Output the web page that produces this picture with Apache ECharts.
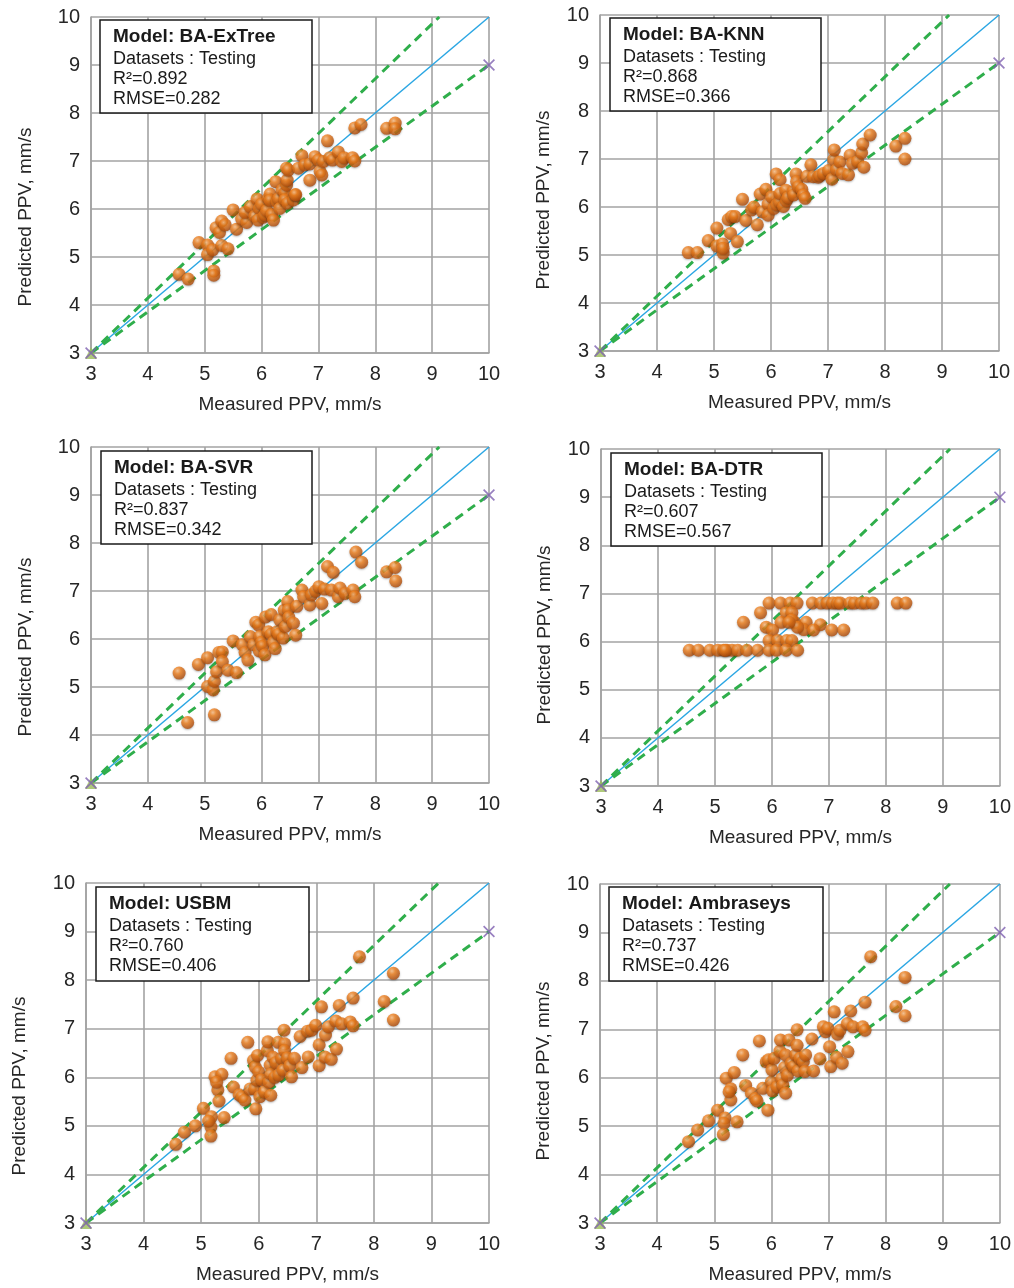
<!DOCTYPE html>
<html>
<head>
<meta charset="utf-8">
<script src="https://cdn.jsdelivr.net/npm/echarts@6/dist/echarts.min.js"></script>
<style>
    html, body {margin: 0; padding: 0; background: #fff;}
    #main {width: 1014px; height: 1288px;}
</style>
</head>
<body>
<div id="main"></div>
<script>
// model stats shown in the boxes
var modelNames = ['BA-ExTree', 'BA-KNN', 'BA-SVR', 'BA-DTR', 'USBM', 'Ambraseys'];
var r2Values = ['0.892', '0.868', '0.837', '0.607', '0.760', '0.737'];
var rmseValues = ['0.282', '0.366', '0.342', '0.567', '0.406', '0.426'];

// [measured, predicted]
var extreeData = [[4.55,4.64],[4.71,4.54],[4.90,5.30],[5.05,5.25],[5.05,5.05],[5.14,5.15],[5.16,4.71],[5.16,4.62],[5.30,5.24],[5.41,5.17],[5.20,5.61],[5.26,5.51],[5.30,5.75],[5.36,5.67],[5.50,5.98],[5.56,5.58],[5.65,5.79],[5.74,5.72],[5.71,5.93],[5.80,6.05],[5.88,5.85],[5.92,6.21],[5.96,6.01],[5.94,5.77],[6.00,6.10],[6.03,5.83],[6.06,5.88],[6.09,5.97],[6.12,6.22],[6.15,6.31],[6.15,6.18],[6.18,5.88],[6.21,5.77],[6.25,6.57],[6.27,6.15],[6.30,6.22],[6.32,6.01],[6.36,6.40],[6.41,6.33],[6.41,6.19],[6.44,6.50],[6.45,6.60],[6.44,6.85],[6.47,6.81],[6.46,6.12],[6.56,6.19],[6.59,6.29],[6.60,6.30],[6.65,6.85],[6.71,7.11],[6.76,6.92],[6.85,6.60],[6.85,6.94],[6.94,7.09],[7.00,7.02],[7.03,6.78],[7.06,6.71],[7.09,6.99],[7.16,7.42],[7.20,7.07],[7.25,7.02],[7.35,7.19],[7.41,6.99],[7.45,7.07],[7.60,7.07],[7.64,7.00],[7.64,7.69],[7.75,7.76],[8.20,7.68],[8.35,7.79],[8.35,7.67]];
var knnData = [[4.55,5.05],[4.71,5.05],[4.90,5.30],[5.05,5.56],[5.05,5.19],[5.15,5.23],[5.16,5.04],[5.16,5.14],[5.25,5.74],[5.31,5.80],[5.37,5.80],[5.29,5.45],[5.41,5.28],[5.50,6.16],[5.56,5.72],[5.66,5.94],[5.70,6.00],[5.76,5.63],[5.81,6.27],[5.85,5.90],[5.91,6.37],[5.95,6.06],[5.95,5.83],[6.01,6.21],[6.05,5.97],[6.09,6.69],[6.10,6.05],[6.15,6.11],[6.16,6.57],[6.16,6.28],[6.22,6.01],[6.26,6.35],[6.27,6.13],[6.30,6.20],[6.39,6.32],[6.40,6.25],[6.44,6.69],[6.45,6.53],[6.48,6.42],[6.54,6.37],[6.57,6.25],[6.60,6.18],[6.63,6.64],[6.70,6.88],[6.74,6.63],[6.83,6.62],[6.86,6.66],[6.92,6.70],[7.01,6.76],[7.07,6.58],[7.10,6.99],[7.11,7.19],[7.15,6.78],[7.21,6.94],[7.25,6.70],[7.36,6.67],[7.39,7.08],[7.43,6.91],[7.52,6.95],[7.59,7.13],[7.61,7.31],[7.63,6.83],[7.74,7.50],[8.19,7.27],[8.35,7.43],[8.35,7.00]];
var svrData = [[4.55,5.29],[4.70,4.26],[4.89,5.47],[5.05,5.61],[5.05,5.01],[5.17,4.42],[5.15,4.94],[5.17,5.12],[5.21,5.32],[5.25,5.72],[5.31,5.73],[5.31,5.53],[5.41,5.35],[5.56,5.30],[5.50,5.96],[5.66,5.88],[5.71,5.72],[5.76,5.56],[5.80,6.05],[5.86,5.88],[5.90,6.35],[5.95,6.29],[5.96,5.75],[5.97,6.05],[6.00,5.93],[6.02,5.85],[6.06,5.67],[6.07,6.46],[6.12,6.15],[6.17,6.51],[6.17,6.10],[6.21,5.93],[6.24,5.80],[6.27,6.15],[6.30,6.10],[6.32,6.40],[6.38,6.02],[6.40,6.60],[6.42,6.26],[6.46,6.78],[6.47,6.61],[6.48,6.45],[6.56,6.33],[6.60,6.08],[6.62,6.68],[6.71,7.02],[6.74,6.88],[6.85,6.71],[6.88,6.92],[6.95,7.00],[7.01,7.09],[7.06,6.74],[7.11,7.04],[7.16,7.51],[7.23,7.02],[7.26,7.39],[7.35,6.88],[7.38,7.06],[7.47,6.95],[7.61,7.02],[7.64,6.88],[7.66,7.81],[7.76,7.60],[8.20,7.40],[8.35,7.49],[8.36,7.21]];
var dtrData = [[5.95,6.8],[6.15,6.8],[6.32,6.8],[6.44,6.8],[6.71,6.8],[6.86,6.8],[6.97,6.8],[7.07,6.8],[7.15,6.8],[7.20,6.8],[7.37,6.8],[7.45,6.8],[7.57,6.8],[7.65,6.8],[7.77,6.8],[8.20,6.8],[8.35,6.8],[5.80,6.6],[6.25,6.6],[6.35,6.6],[5.50,6.4],[6.16,6.4],[6.40,6.4],[6.60,6.4],[6.35,6.45],[6.85,6.35],[5.90,6.3],[6.56,6.25],[6.01,6.24],[6.73,6.24],[7.05,6.24],[7.26,6.24],[6.45,6.3],[6.30,6.4],[5.95,6.02],[6.10,6.02],[6.26,6.02],[6.35,6.02],[4.55,5.82],[4.71,5.82],[4.91,5.82],[5.05,5.82],[5.15,5.82],[5.21,5.82],[5.30,5.82],[5.40,5.82],[5.56,5.82],[5.75,5.82],[5.95,5.82],[6.08,5.82],[6.25,5.82],[6.45,5.82],[5.18,5.82]];
var usbmData = [[4.56,4.62],[4.71,4.87],[4.90,5.00],[5.04,5.36],[5.18,5.19],[5.17,4.98],[5.17,4.79],[5.13,5.10],[5.40,5.17],[5.24,6.01],[5.36,6.06],[5.29,5.74],[5.31,5.51],[5.27,5.90],[5.52,6.39],[5.56,5.80],[5.66,5.64],[5.71,5.60],[5.76,5.53],[5.81,6.72],[5.85,5.76],[5.91,6.35],[5.94,6.21],[5.93,5.76],[5.95,5.35],[5.97,5.94],[5.98,6.45],[6.00,6.11],[6.02,5.60],[6.05,5.95],[6.10,5.70],[6.15,6.55],[6.16,6.73],[6.18,5.90],[6.20,6.25],[6.21,6.07],[6.21,5.63],[6.25,6.41],[6.28,6.00],[6.30,6.30],[6.34,6.72],[6.35,6.05],[6.40,6.39],[6.42,6.15],[6.44,6.97],[6.45,6.69],[6.45,6.55],[6.50,6.40],[6.54,6.24],[6.57,6.01],[6.62,6.39],[6.72,6.84],[6.75,6.20],[6.85,6.95],[6.86,6.42],[6.92,6.97],[6.99,7.07],[7.05,6.67],[7.05,6.24],[7.09,7.45],[7.15,6.42],[7.16,6.87],[7.21,7.04],[7.26,6.37],[7.34,7.16],[7.35,6.58],[7.40,7.48],[7.44,7.10],[7.59,7.14],[7.64,7.06],[7.64,7.63],[7.75,8.48],[8.18,7.56],[8.34,8.14],[8.34,7.18]];
var ambraseysData = [[4.55,4.68],[4.71,4.92],[4.90,5.11],[5.06,5.33],[5.19,5.17],[5.17,5.06],[5.16,4.83],[5.40,5.09],[5.21,5.99],[5.35,6.11],[5.29,5.77],[5.29,5.54],[5.26,5.71],[5.50,6.47],[5.55,5.84],[5.65,5.68],[5.72,5.57],[5.75,5.52],[5.79,6.76],[5.85,5.78],[5.91,6.33],[5.95,6.37],[5.94,5.33],[6.00,5.91],[6.01,6.16],[6.02,5.73],[6.05,6.40],[6.10,5.81],[6.15,6.55],[6.16,6.78],[6.18,5.98],[6.20,5.85],[6.23,6.21],[6.25,6.47],[6.25,5.68],[6.28,6.05],[6.31,6.78],[6.35,6.30],[6.39,6.23],[6.43,6.47],[6.45,6.67],[6.45,6.99],[6.47,6.14],[6.50,6.40],[6.56,6.33],[6.59,6.13],[6.60,6.47],[6.71,6.80],[6.74,6.14],[6.85,6.39],[6.91,7.05],[6.95,6.95],[6.99,7.02],[7.02,6.64],[7.04,6.23],[7.10,7.36],[7.14,6.42],[7.16,6.90],[7.20,6.98],[7.24,6.30],[7.33,7.12],[7.34,6.54],[7.39,7.38],[7.43,7.05],[7.60,7.05],[7.64,6.98],[7.64,7.56],[7.74,8.50],[8.18,7.47],[8.34,8.07],[8.34,7.28]];

// reference lines (1:1 line and the two dashed bounds)
var lineFit = [[3, 3], [10, 10]];
var lineUpper = [[3, 3], [9.125, 10]];
var lineLower = [[3, 3], [10, 9]];
var crossPoints = [[3, 3], [10, 9]];
var trianglePoints = [[3, 3]];

var allData = [extreeData, knnData, svrData, dtrData, usbmData, ambraseysData];

// panel layout: grid + box + y-title position
var panels = [
    {left: 91, top: 17, width: 398, height: 336, bx: 100, by: 20, bw: 212, bh: 93, tx: 26, ty: 217},
    {left: 600, top: 15, width: 399, height: 336, bx: 610, by: 18, bw: 211, bh: 93, tx: 544, ty: 200},
    {left: 91, top: 447, width: 398, height: 336, bx: 101, by: 451, bw: 211, bh: 93, tx: 26, ty: 647},
    {left: 601, top: 449, width: 399, height: 337, bx: 611, by: 453, bw: 211, bh: 93, tx: 545, ty: 635},
    {left: 86, top: 883, width: 403, height: 340, bx: 96, by: 887, bw: 213, bh: 94, tx: 20, ty: 1086},
    {left: 600, top: 884, width: 403, height: 339, bx: 609, by: 887, bw: 214, bh: 94, tx: 544, ty: 1071}
];

var fontFam = '"Liberation Sans", Arial, sans-serif';
var gridColor = '#a3a3a3';

var ballColor = {
    type: 'radial', x: 0.38, y: 0.32, r: 0.72,
    colorStops: [
        {offset: 0, color: '#ffc38a'},
        {offset: 0.35, color: '#f2821f'},
        {offset: 1, color: '#a8470a'}
    ]
};

function axisCfg(i, isX) {
    return {
        gridIndex: i,
        type: 'value',
        min: 3,
        max: 10,
        interval: 1,
        name: isX ? 'Measured PPV, mm/s' : '',
        nameLocation: 'middle',
        nameGap: 42,
        nameTextStyle: {fontSize: 19, color: '#262626', fontFamily: fontFam},
        axisLine: {show: true, lineStyle: {color: gridColor, width: 1.6}},
        axisTick: {show: false},
        splitLine: {show: true, lineStyle: {color: gridColor, width: 1.6}},
        axisLabel: {fontSize: 20, color: '#262626', fontFamily: fontFam, margin: 11}
    };
}

var grids = [], xAxes = [], yAxes = [], series = [], graphics = [];

for (var i = 0; i < panels.length; i++) {
    var p = panels[i];
    grids.push({left: p.left, top: p.top, width: p.width, height: p.height, containLabel: false});
    xAxes.push(axisCfg(i, true));
    yAxes.push(axisCfg(i, false));

    series.push({
        type: 'line', xAxisIndex: i, yAxisIndex: i, data: lineFit, symbol: 'none', silent: true, z: 2,
        lineStyle: {color: '#2aa6e3', width: 1.5}
    });
    series.push({
        type: 'line', xAxisIndex: i, yAxisIndex: i, data: lineUpper, symbol: 'none', silent: true, z: 2,
        lineStyle: {color: '#2fae4b', width: 3, type: [9, 6]}
    });
    series.push({
        type: 'line', xAxisIndex: i, yAxisIndex: i, data: lineLower, symbol: 'none', silent: true, z: 2,
        lineStyle: {color: '#2fae4b', width: 3, type: [9, 6]}
    });
    series.push({
        type: 'scatter', xAxisIndex: i, yAxisIndex: i, data: allData[i], symbolSize: 13, z: 3,
        itemStyle: {color: ballColor, shadowBlur: 2, shadowColor: 'rgba(0,0,0,0.35)', shadowOffsetY: 1}
    });
    series.push({
        type: 'scatter', xAxisIndex: i, yAxisIndex: i, data: trianglePoints, symbol: 'triangle', symbolSize: 12, z: 4,
        itemStyle: {color: '#9bbb59'}
    });
    series.push({
        type: 'scatter', xAxisIndex: i, yAxisIndex: i, data: crossPoints, z: 5,
        symbol: 'path://M0,1L1,0L10,9L9,10Z M9,0L10,1L1,10L0,9Z', symbolSize: 12,
        itemStyle: {color: '#7e60b0'}
    });

    // stats box
    graphics.push({
        type: 'rect', z: 10,
        shape: {x: p.bx, y: p.by, width: p.bw, height: p.bh},
        style: {fill: '#fff', stroke: '#1a1a1a', lineWidth: 1.5}
    });
    var lines = ['Model: ' + modelNames[i], 'Datasets : Testing', 'R\u00b2=' + r2Values[i], 'RMSE=' + rmseValues[i]];
    var offs = [17, 39, 59, 79];
    for (var k = 0; k < lines.length; k++) {
        graphics.push({
            type: 'text', z: 11, x: p.bx + 13, y: p.by + offs[k],
            style: {
                text: lines[k], fill: '#1a1a1a', align: 'left', verticalAlign: 'middle',
                font: (k == 0 ? 'bold 19px ' : '18px ') + fontFam
            }
        });
    }
    // y axis title
    graphics.push({
        type: 'text', x: p.tx, y: p.ty, rotation: Math.PI / 2,
        style: {
            text: 'Predicted PPV, mm/s', fill: '#262626', align: 'center', verticalAlign: 'middle',
            font: '19px ' + fontFam
        }
    });
}

var myChart = echarts.init(document.getElementById('main'));
option = {
    backgroundColor: '#fff',
    animation: false,
    grid: grids,
    xAxis: xAxes,
    yAxis: yAxes,
    series: series,
    graphic: graphics
};
myChart.setOption(option, true);
</script>
</body>
</html>
